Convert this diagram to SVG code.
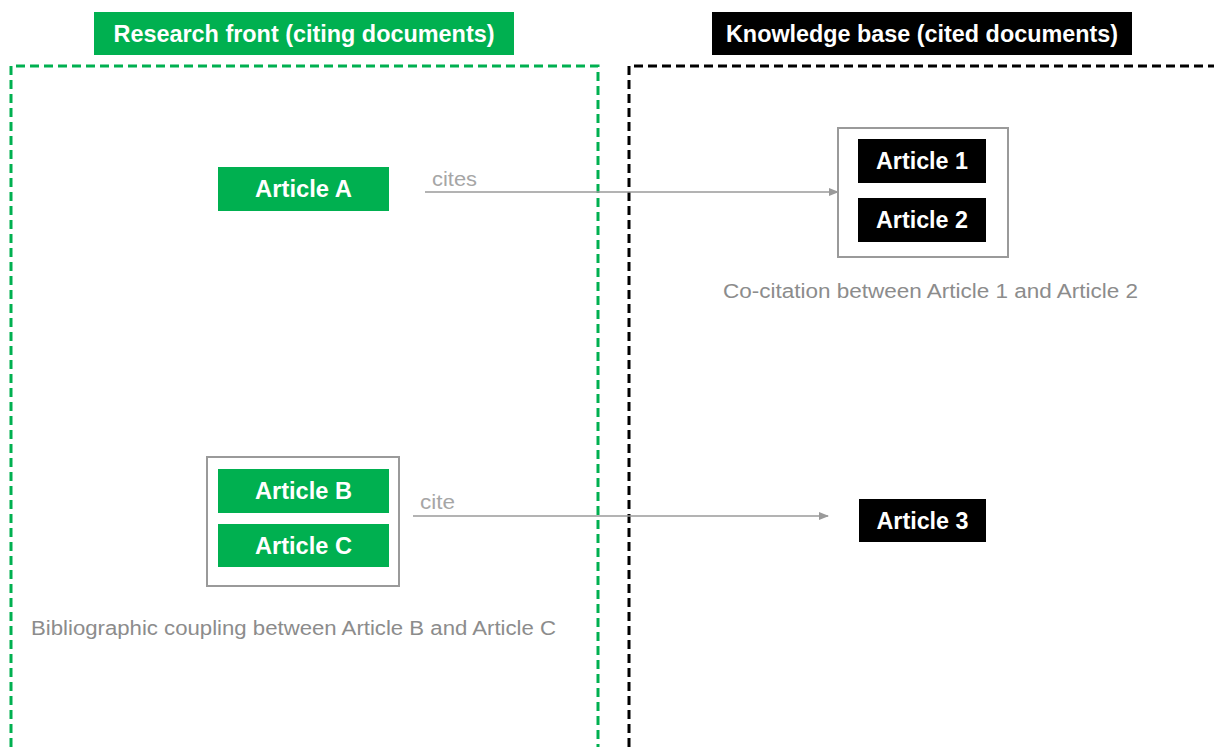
<svg xmlns="http://www.w3.org/2000/svg" width="1214" height="747" viewBox="0 0 1214 747">
  <style>
    .hdr { font-family: "Liberation Sans", Arial, sans-serif; font-weight: bold; font-size: 23px; fill: #fff; text-anchor: middle; }
    .art { font-family: "Liberation Sans", Arial, sans-serif; font-weight: bold; font-size: 23px; fill: #fff; text-anchor: middle; }
    .cap { font-family: "Liberation Sans", Arial, sans-serif; font-size: 19.5px; fill: #8c8c8c; }
    .lbl { font-family: "Liberation Sans", Arial, sans-serif; font-size: 20px; fill: #a6a6a6; }
    .green { fill: #00b050; }
    .black { fill: #000; }
    .group { fill: #fff; stroke: #9a9a9a; stroke-width: 2; }
    .conn { stroke: #9a9a9a; stroke-width: 1.5; fill: none; marker-end: url(#arrow); }
  </style>
  <defs>
    <marker id="arrow" markerWidth="10" markerHeight="10" refX="9" refY="5" orient="auto" markerUnits="userSpaceOnUse">
      <path d="M0,1 L10,5 L0,9 Z" fill="#9a9a9a"/>
    </marker>
  </defs>
  <rect width="1214" height="747" fill="#fff"/>

  <!-- Zone frames -->
  <g id="research-front">
    <path d="M11,747 V66 H598 V747" fill="none" stroke="#00b050" stroke-width="3" stroke-dasharray="9,5"/>
    <rect x="94" y="12" width="420" height="43" class="green"/>
    <text x="304" y="42" class="hdr" textLength="381" lengthAdjust="spacingAndGlyphs">Research front (citing documents)</text>
  </g>
  <g id="knowledge-base">
    <path d="M629,747 V66 H1214" fill="none" stroke="#000" stroke-width="3" stroke-dasharray="9,5"/>
    <rect x="712" y="12" width="420" height="43" class="black"/>
    <text x="922" y="42" class="hdr" textLength="392" lengthAdjust="spacingAndGlyphs">Knowledge base (cited documents)</text>
  </g>

  <!-- Connectors -->
  <g id="connectors">
    <line x1="425" y1="192" x2="838" y2="192" class="conn"/>
    <text x="432" y="186" class="lbl" textLength="45" lengthAdjust="spacingAndGlyphs">cites</text>
    <line x1="413" y1="516" x2="828" y2="516" class="conn"/>
    <text x="420" y="509" class="lbl" textLength="35" lengthAdjust="spacingAndGlyphs">cite</text>
  </g>

  <!-- Nodes -->
  <g id="article-a">
    <rect x="218" y="167" width="171" height="44" class="green"/>
    <text x="303.5" y="197" class="art" textLength="97" lengthAdjust="spacingAndGlyphs">Article A</text>
  </g>

  <g id="cocitation-group">
    <rect x="838" y="128" width="170" height="129" class="group"/>
    <g id="article-1">
      <rect x="858" y="139" width="128" height="44" class="black"/>
      <text x="922" y="169" class="art" textLength="92" lengthAdjust="spacingAndGlyphs">Article 1</text>
    </g>
    <g id="article-2">
      <rect x="858" y="198" width="128" height="44" class="black"/>
      <text x="922" y="228" class="art" textLength="92" lengthAdjust="spacingAndGlyphs">Article 2</text>
    </g>
    <text x="930.5" y="298" class="cap" text-anchor="middle" textLength="415" lengthAdjust="spacingAndGlyphs">Co-citation between Article 1 and Article 2</text>
  </g>

  <g id="coupling-group">
    <rect x="207" y="457" width="192" height="129" class="group"/>
    <g id="article-b">
      <rect x="218" y="469" width="171" height="44" class="green"/>
      <text x="303.5" y="499" class="art" textLength="97" lengthAdjust="spacingAndGlyphs">Article B</text>
    </g>
    <g id="article-c">
      <rect x="218" y="524" width="171" height="43" class="green"/>
      <text x="303.5" y="554" class="art" textLength="97" lengthAdjust="spacingAndGlyphs">Article C</text>
    </g>
    <text x="31" y="635" class="cap" textLength="525" lengthAdjust="spacingAndGlyphs">Bibliographic coupling between Article B and Article C</text>
  </g>

  <g id="article-3">
    <rect x="859" y="499" width="127" height="43" class="black"/>
    <text x="922.5" y="529" class="art" textLength="92" lengthAdjust="spacingAndGlyphs">Article 3</text>
  </g>
</svg>
